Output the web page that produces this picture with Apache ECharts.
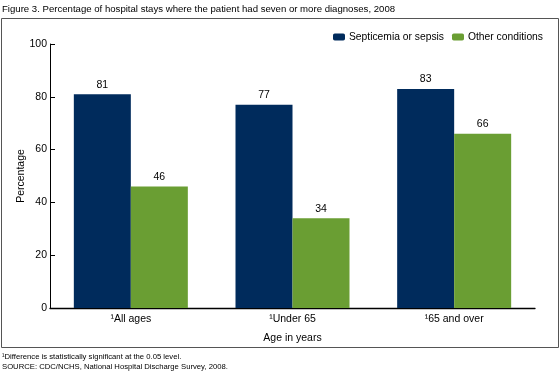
<!DOCTYPE html>
<html><head><meta charset="utf-8">
<script src="https://cdn.jsdelivr.net/npm/echarts@6/dist/echarts.min.js"></script>
<style>html,body{margin:0;padding:0;background:#fff}#c{width:560px;height:373px}</style>
</head><body><div id="c"></div>
<script>
var categories = ['¹All ages', '¹Under 65', '¹65 and over'];
var septicemia = [81, 77, 83];
var otherConditions = [46, 34, 66];
var yTicks = [0, 20, 40, 60, 80, 100];

var chart = echarts.init(document.getElementById('c'), null, {renderer: 'canvas'});
var F = 'Arial, "Liberation Sans", sans-serif';
chart.setOption({
  animation: false,
  textStyle: {fontFamily: F},
  grid: {left: 50, right: 25, top: 44, bottom: 65, containLabel: false},
  legend: {
    orient: 'horizontal', top: 32, left: 333, width: 240, padding: 0,
    itemWidth: 12, itemHeight: 7, itemGap: 8,
    textStyle: {fontFamily: F, fontSize: 10.3, color: '#000', padding: [0, 0, 0, -1]},
    data: ['Septicemia or sepsis', 'Other conditions']
  },
  xAxis: {
    type: 'category', data: categories,
    axisLine: {lineStyle: {color: '#000', width: 1.3}},
    axisTick: {show: false},
    axisLabel: {fontFamily: F, fontSize: 10.5, color: '#000', margin: 6},
    name: 'Age in years', nameLocation: 'middle', nameGap: 25,
    nameTextStyle: {fontFamily: F, fontSize: 10.5, color: '#000'}
  },
  yAxis: {
    type: 'value', min: yTicks[0], max: yTicks[yTicks.length - 1], interval: 20,
    axisLine: {show: true, lineStyle: {color: '#000', width: 1}},
    axisTick: {show: true, inside: true, length: 5, lineStyle: {color: '#000'}},
    splitLine: {show: false},
    axisLabel: {fontFamily: F, fontSize: 10.5, color: '#000', margin: 3},
    name: 'Percentage', nameLocation: 'middle', nameGap: 23, nameMoveOverlap: false,
    nameTextStyle: {fontFamily: F, fontSize: 10.5, color: '#000'}
  },
  series: [
    {name: 'Septicemia or sepsis', type: 'bar', data: septicemia, barWidth: 57, barGap: '0%',
     itemStyle: {color: '#002b5c'},
     label: {show: true, position: 'top', distance: 4, fontFamily: F, fontSize: 10.5, color: '#000'}},
    {name: 'Other conditions', type: 'bar', data: otherConditions, barWidth: 57,
     itemStyle: {color: '#6a9e33'},
     label: {show: true, position: 'top', distance: 4, fontFamily: F, fontSize: 10.5, color: '#000'}}
  ],
  graphic: [
    {type: 'rect', shape: {x: 1.5, y: 18.5, width: 557, height: 329},
     style: {fill: 'none', stroke: '#555', lineWidth: 1}, z: -1},
    {type: 'text', left: 2, top: 4,
     style: {text: 'Figure 3. Percentage of hospital stays where the patient had seven or more diagnoses, 2008',
             fontFamily: F, fontSize: 9.6, fill: '#000'}},
    {type: 'text', left: 2, top: 353,
     style: {text: '¹Difference is statistically significant at the 0.05 level.',
             fontFamily: F, fontSize: 7.7, fill: '#000'}},
    {type: 'text', left: 2, top: 363,
     style: {text: 'SOURCE: CDC/NCHS, National Hospital Discharge Survey, 2008.',
             fontFamily: F, fontSize: 7.7, fill: '#000'}}
  ]
});
</script></body></html>
